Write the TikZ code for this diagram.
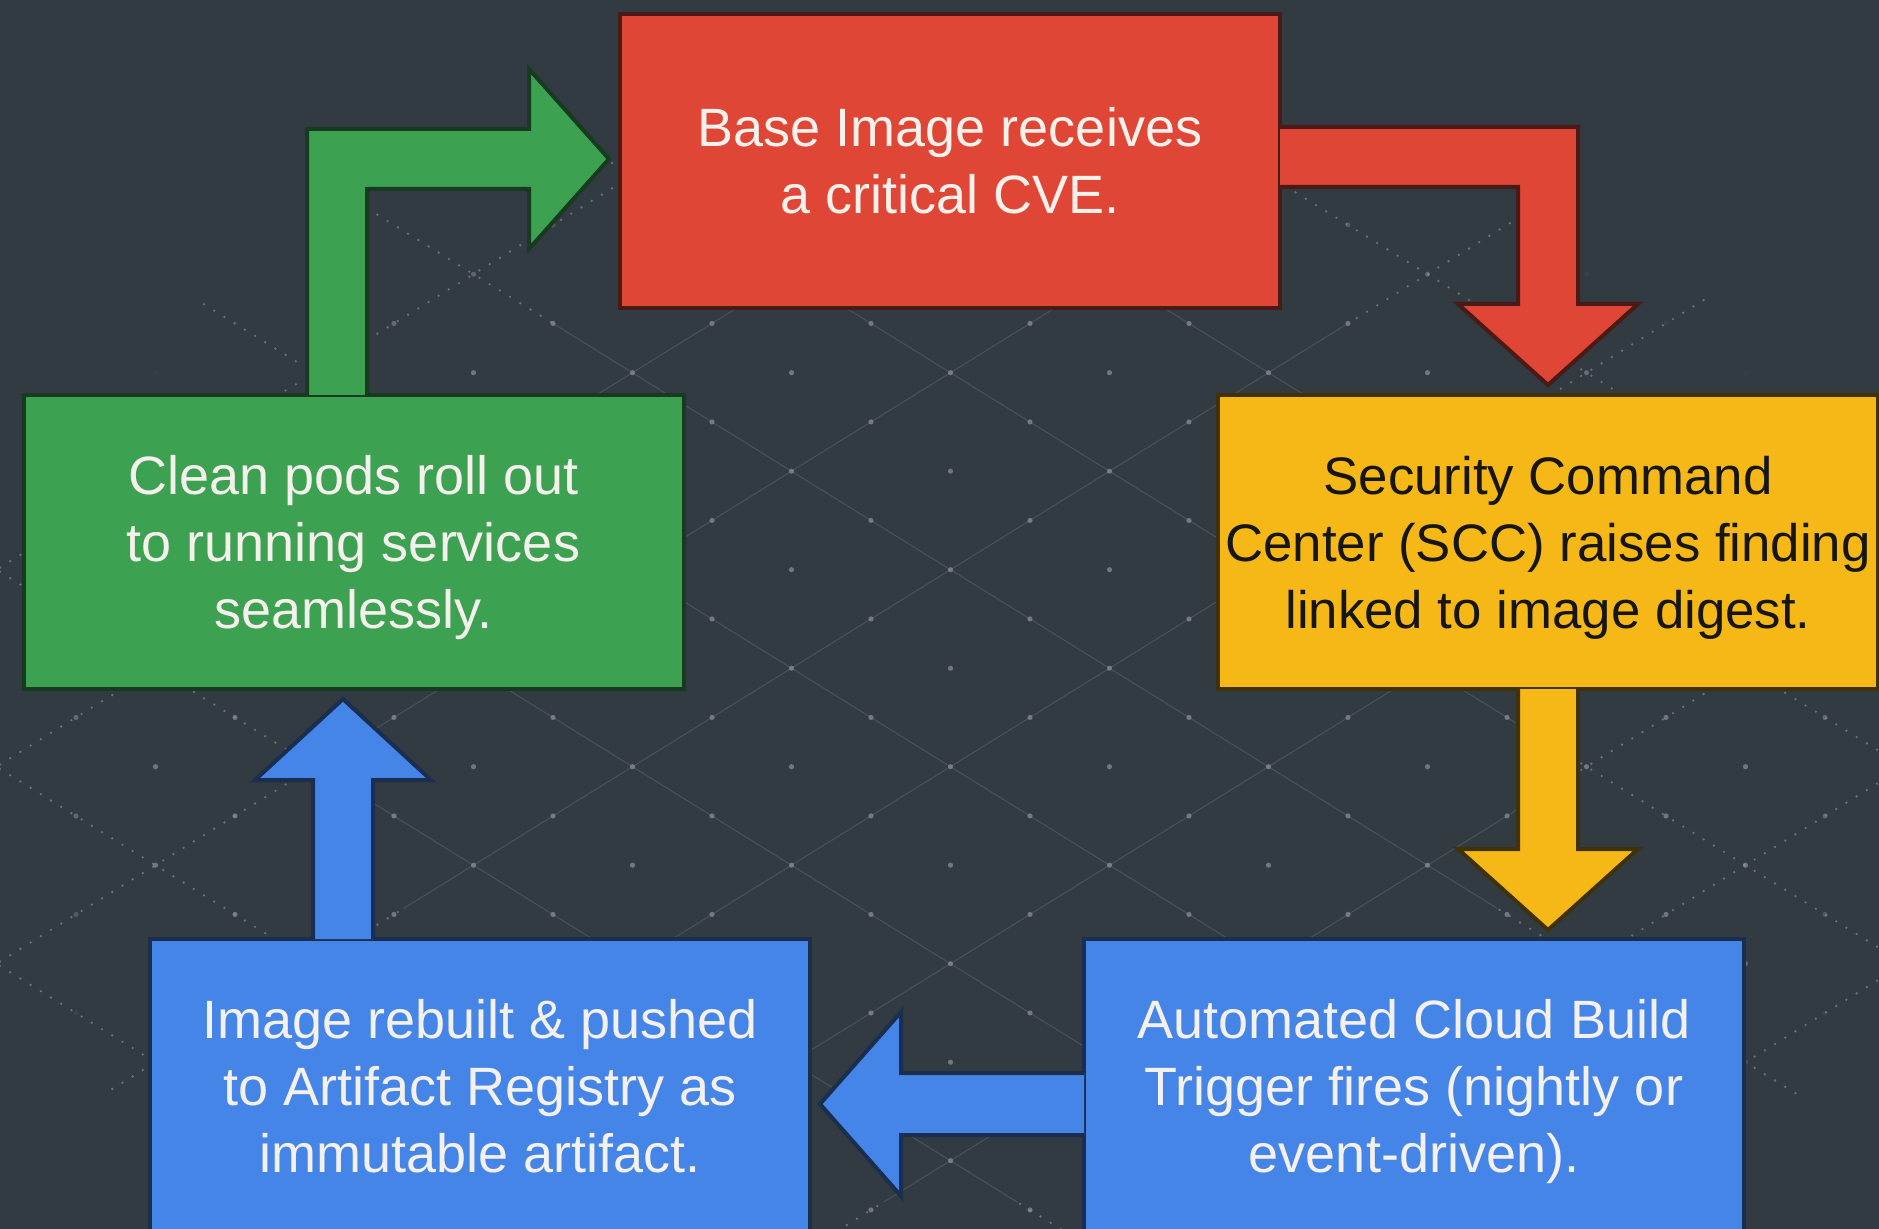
\documentclass[tikz,border=0pt]{standalone}
\usepackage{fontspec}
\setmainfont{Liberation Sans}
\usetikzlibrary{calc}
\definecolor{bgC}{HTML}{323A42}
\definecolor{lineC}{HTML}{4A525B}
\definecolor{dlineC}{HTML}{6A7179}
\definecolor{dotC}{HTML}{9AA0A7}
\definecolor{redC}{HTML}{E04636}
\definecolor{redD}{HTML}{4A1A16}
\definecolor{greenC}{HTML}{3DA152}
\definecolor{greenD}{HTML}{173A20}
\definecolor{yellowC}{HTML}{F5B817}
\definecolor{yellowD}{HTML}{3F3208}
\definecolor{blueC}{HTML}{4585E8}
\definecolor{blueD}{HTML}{1A2E50}
\definecolor{lightT}{HTML}{F4F1EC}
\definecolor{darkT}{HTML}{161616}
\newcommand{\nodepth}[1]{\raisebox{0pt}[\height][0pt]{#1}}
\tikzset{
  box/.style={rectangle, minimum width=330pt, minimum height=147pt, inner sep=0pt,
    line width=2pt, align=center, font=\fontsize{27}{33.5}\selectfont},
  redbox/.style={box, fill=redC, draw=redD, text=lightT},
  greenbox/.style={box, fill=greenC, draw=greenD, text=lightT},
  yellowbox/.style={box, fill=yellowC, draw=yellowD, text=darkT, font=\fontsize{26.4}{33.5}\selectfont},
  bluebox/.style={box, fill=blueC, draw=blueD, text=lightT},
  blockarrow/.style={line width=2pt, line join=miter},
  garrow/.style={blockarrow, fill=greenC, draw=greenD},
  rarrow/.style={blockarrow, fill=redC, draw=redD},
  yarrow/.style={blockarrow, fill=yellowC, draw=yellowD},
  barrow/.style={blockarrow, fill=blueC, draw=blueD},
  solidline/.style={draw=lineC, line width=0.5pt},
  dotline/.style={draw=dlineC, line width=1.3pt, line cap=round, dash pattern=on 0pt off 6pt}
}
\begin{document}
\begin{tikzpicture}[x=0.5pt,y=-0.5pt]
\useasboundingbox (0,0) rectangle (1879,1229);
\fill[bgC] (0,0) rectangle (1879,1229);
% dotted outer lattice lines
\begin{scope}
  \clip (960,730) ellipse [x radius=1040, y radius=630];
  \foreach \k in {-5,...,8} {
    \draw[dotline] (0,{-216.1+197*\k}) -- (1879,{947.9+197*\k});
    \draw[dotline] (0,{961.5+197*\k}) -- (1879,{-202.5+197*\k});
  }
\end{scope}
\fill[bgC] (950,700) ellipse [x radius=600, y radius=505];
% solid inner lattice lines
\begin{scope}
  \clip (950,700) ellipse [x radius=600, y radius=505];
  \foreach \k in {-5,...,8} {
    \draw[solidline] (0,{-216.1+197*\k}) -- (1879,{947.9+197*\k});
    \draw[solidline] (0,{961.5+197*\k}) -- (1879,{-202.5+197*\k});
  }
\end{scope}
% lattice dots
\foreach \i in {-12,...,12} {
  \foreach \j in {-8,...,18} {
    \pgfmathtruncatemacro\dodd{mod(\i+\j+40,2)}
    \ifnum\dodd=0
      \pgfmathsetmacro\px{950.5+79.5*\i}
      \pgfmathsetmacro\py{372.7+49.25*\j}
      \pgfmathsetmacro\rr{((\px-950)/1000)^2+((\py-740)/620)^2}
      \pgfmathsetmacro\op{max(0,min(0.6,2*(1-\rr)))}
      \fill[dotC, opacity=\op] (\px,\py) circle (2.6);
    \fi
  }
}
% boxes
\node[redbox] (red) at (950,161) {Base Image receives\\a critical CVE.};
\node[greenbox] (green) at (353.5,542) {Clean pods roll out\\to running services\\\nodepth{seamlessly.}};
\node[yellowbox] (yellow) at (1548,542) {Security Command\\Center (SCC) raises finding\\\nodepth{linked to image digest.}};
\node[bluebox] (blueL) at (480,1086) {Image rebuilt \& pushed\\to Artifact Registry as\\immutable artifact.};
\node[bluebox] (blueR) at (1414,1086) {Automated Cloud Build\\Trigger fires (nightly or\\\nodepth{event-driven).}};
% green connector: green -> red
\coordinate (gb) at (337,159);
\coordinate (gt) at (gb -| red.west);
\filldraw[garrow] ($(gb |- green.north)+(-30,2)$) -- ($(gb)+(-30,-30)$) -- ($(gt)+(-89,-30)$)
  -- ($(gt)+(-89,-90)$) -- ($(gt)+(-9,0)$) -- ($(gt)+(-89,90)$) -- ($(gt)+(-89,30)$)
  -- ($(gb)+(30,30)$) -- ($(gb |- green.north)+(30,2)$);
% red connector: red -> yellow
\coordinate (rb) at (1548,157);
\coordinate (rs) at (rb -| red.east);
\coordinate (rt) at (rb |- yellow.north);
\filldraw[rarrow] ($(rs)+(-2,-30)$) -- ($(rb)+(30,-30)$) -- ($(rt)+(30,-89)$) -- ($(rt)+(90,-89)$)
  -- ($(rt)+(0,-8)$) -- ($(rt)+(-90,-89)$) -- ($(rt)+(-30,-89)$) -- ($(rb)+(-30,30)$) -- ($(rs)+(-2,30)$);
% yellow connector: yellow -> blueR
\coordinate (yt) at (yellow.south |- blueR.north);
\filldraw[yarrow] ($(yellow.south)+(-30,-2)$) -- ($(yt)+(-30,-88)$) -- ($(yt)+(-90,-88)$)
  -- ($(yt)+(0,-7)$) -- ($(yt)+(90,-88)$) -- ($(yt)+(30,-88)$) -- ($(yellow.south)+(30,-2)$);
% blue connector: blueR -> blueL
\coordinate (bh) at (950,1104);
\coordinate (bhs) at (bh -| blueR.west);
\coordinate (bht) at (bh -| blueL.east);
\filldraw[barrow] ($(bhs)+(2,-31)$) -- ($(bht)+(89,-31)$) -- ($(bht)+(89,-92)$) -- ($(bht)+(8,0)$)
  -- ($(bht)+(89,92)$) -- ($(bht)+(89,31)$) -- ($(bhs)+(2,31)$);
% blue connector: blueL -> green
\coordinate (bv) at (343,800);
\coordinate (bvs) at (bv |- blueL.north);
\coordinate (bvt) at (bv |- green.south);
\filldraw[barrow] ($(bvs)+(-30,2)$) -- ($(bvt)+(-30,89)$) -- ($(bvt)+(-88,89)$) -- ($(bvt)+(0,8)$)
  -- ($(bvt)+(88,89)$) -- ($(bvt)+(30,89)$) -- ($(bvs)+(30,2)$);
\end{tikzpicture}
\end{document}
